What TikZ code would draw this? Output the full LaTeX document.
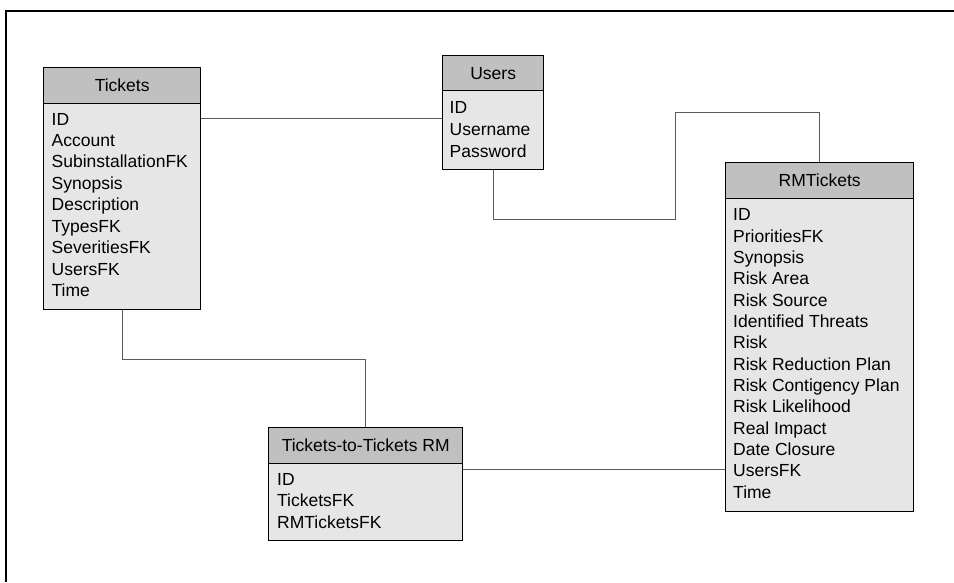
\documentclass[tikz,border=0pt]{standalone}
\usepackage{fontspec}
\setmainfont{Liberation Sans}
\usetikzlibrary{calc}
\definecolor{hdrgray}{HTML}{C0C0C0}
\definecolor{bodygray}{HTML}{E6E6E6}
\definecolor{conngray}{HTML}{5A5A5A}
\tikzset{
  hdr/.style={draw=black, fill=hdrgray, line width=1.4pt, anchor=north west, inner sep=0pt,
    font=\fontsize{17.5}{20}\selectfont},
  bodybox/.style={draw=black, fill=bodygray, line width=1.4pt, anchor=north west, inner sep=0pt},
  item/.style={anchor=base west, inner sep=0pt, font=\fontsize{17.5}{20}\selectfont},
  conn/.style={draw=conngray, line width=1pt},
  frame/.style={draw=black, line width=2pt}
}
\begin{document}
\begin{tikzpicture}[x=1pt,y=-1pt]
\useasboundingbox (0,0) rectangle (954,582);
\fill[white] (0,0) rectangle (954,582);
% frame
\draw[frame] (6,582) -- (6,11) -- (954,11);

\coordinate (y118) at (0,118);
\coordinate (y112) at (0,112);
\coordinate (y469) at (0,469);

% Tickets
\node[bodybox, minimum width=157, minimum height=206] (tb) at (43,103) {};
\node[hdr, minimum width=157, minimum height=36] (th) at (43,67) {Tickets};
\foreach \t [count=\i] in {ID,Account,SubinstallationFK,Synopsis,Description,TypesFK,SeveritiesFK,UsersFK,Time}
  \node[item] (tk-\i) at (51.5,{125+(\i-1)*21.45}) {\t};

% Users
\node[bodybox, minimum width=101, minimum height=79] (ub) at (442,90) {};
\node[hdr, minimum width=101, minimum height=35] (uh) at (442,55) {Users};
\foreach \t [count=\i] in {ID,Username,Password}
  \node[item] (us-\i) at (449.5,{113.5+(\i-1)*22}) {\t};

% RMTickets
\node[bodybox, minimum width=188, minimum height=313] (rb) at (725,198) {};
\node[hdr, minimum width=188, minimum height=36] (rh) at (725,162) {RMTickets};
\foreach \t [count=\i] in {ID,PrioritiesFK,Synopsis,Risk Area,Risk Source,Identified Threats,Risk,Risk Reduction Plan,Risk Contigency Plan,Risk Likelihood,Real Impact,Date Closure,UsersFK,Time}
  \node[item] (rm-\i) at (733,{220.7+(\i-1)*21.35}) {\t};

% Tickets-to-Tickets RM
\node[bodybox, minimum width=194, minimum height=77] (xb) at (268,463) {};
\node[hdr, minimum width=194, minimum height=36] (xh) at (268,427) {Tickets-to-Tickets RM};
\foreach \t [count=\i] in {ID,TicketsFK,RMTicketsFK}
  \node[item] (xr-\i) at (277,{485+(\i-1)*21.7}) {\t};

% connectors
\draw[conn] (tb.east |- y118) -- (ub.west |- y118);
\draw[conn] (ub.south) |- (675,219) |- (rh.north |- y112) -- (rh.north);
\draw[conn] (tb.south) -- ++(0,49) -| (xh.north);
\draw[conn] (xb.east |- y469) -- (rb.west |- y469);
\end{tikzpicture}
\end{document}
